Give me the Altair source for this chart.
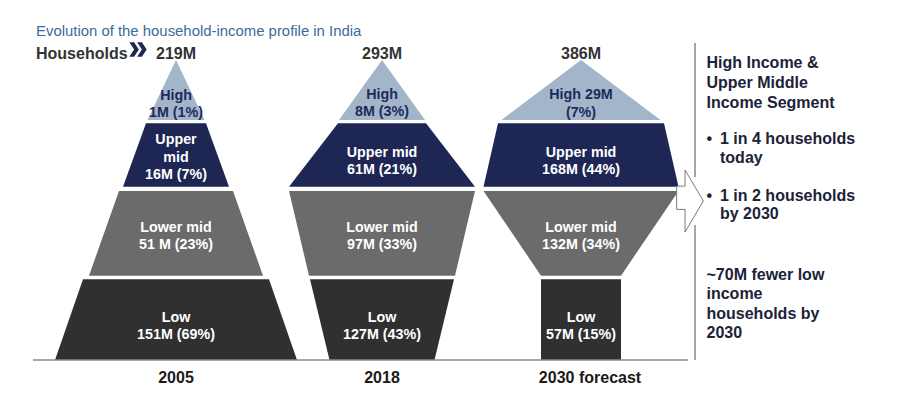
import altair as alt
import pandas as pd

# ---------------- data ----------------
years = ["2005", "2018", "2030 forecast"]
totals = ["219M", "293M", "386M"]
segments = ["High", "Upper mid", "Lower mid", "Low"]
seg_labels = [
    [["High", "1M (1%)"], ["Upper", "mid", "16M (7%)"], ["Lower mid", "51 M (23%)"], ["Low", "151M (69%)"]],
    [["High", "8M (3%)"], ["Upper mid", "61M (21%)"], ["Lower mid", "97M (33%)"], ["Low", "127M (43%)"]],
    [["High 29M", "(7%)"], ["Upper mid", "168M (44%)"], ["Lower mid", "132M (34%)"], ["Low", "57M (15%)"]],
]
# half-widths of each band at its top and bottom edge, per year
half_top = [[0, 30, 57, 93], [0, 44, 93, 72], [0, 83, 97.5, 40]]
half_bottom = [[28.5, 53, 87, 121], [43, 93, 73, 52.5], [79.5, 97.5, 40, 40]]

title_text = "Evolution of the household-income profile in India"
households_text = "Households"
side_title = ["High Income &", "Upper Middle", "Income Segment"]
side_bullets = [["1 in 4 households", "today"], ["1 in 2 households", "by 2030"]]
side_note = ["~70M fewer low", "income", "households by", "2030"]

# ---------------- layout / style ----------------
W, H = 892, 379
centers = [176, 382, 581]
year_label_x = [176, 382, 590]
band_top = [60, 123.3, 191, 279.3]
band_bottom = [120, 186.7, 275.7, 360]
label_first_y = [[99.5, 144, 231.7, 321.7], [98.5, 156.7, 231.7, 321.7], [99, 156.7, 231.7, 321.7]]
fills = ["#a3b5c8", "#1e2654", "#6b6b6b", "#303030"]
label_colors = ["#1f2a5c", "white", "white", "white"]
FONT = "Liberation Sans"

xs = alt.Scale(domain=[8, 8 + W], range=[0, W], nice=False, zero=False)
ys = alt.Scale(domain=[8, 8 + H], range=[0, H], nice=False, zero=False)


def X(f):
    return alt.X(f, type="quantitative", scale=xs, axis=None)


def Y(f):
    return alt.Y(f, type="quantitative", scale=ys, axis=None)


# bands (trapezoids)
rows = []
for i in range(len(years)):
    for j, s in enumerate(segments):
        c = centers[i]
        rows.append(dict(id=f"{i}-{j}", seg=s, y=band_top[j], xl=c - half_top[i][j], xr=c + half_top[i][j]))
        rows.append(dict(id=f"{i}-{j}", seg=s, y=band_bottom[j], xl=c - half_bottom[i][j], xr=c + half_bottom[i][j]))
bands = alt.Chart(pd.DataFrame(rows)).mark_area(orient="horizontal", opacity=1).encode(
    y=Y("y"), x=X("xl"), x2="xr",
    color=alt.Color("seg:N", scale=alt.Scale(domain=segments, range=fills), legend=None),
    detail="id:N",
)

# band labels
lrows = []
for i in range(len(years)):
    for j, s in enumerate(segments):
        for k, line in enumerate(seg_labels[i][j]):
            lrows.append(dict(x=centers[i], y=label_first_y[i][j] + 17.7 * k, t=line, c=label_colors[j]))
band_labels = alt.Chart(pd.DataFrame(lrows)).mark_text(
    font=FONT, fontSize=14.3, fontWeight="bold", align="center", baseline="alphabetic"
).encode(x=X("x"), y=Y("y"), text="t:N", color=alt.Color("c:N", scale=None))

# totals and years
tot = alt.Chart(pd.DataFrame(dict(x=centers, y=[54] * 3, t=totals))).mark_text(
    font=FONT, fontSize=16, fontWeight="bold", align="center", color="#333333"
).encode(x=X("x"), y=Y("y"), text="t:N")
yrs = alt.Chart(pd.DataFrame(dict(x=year_label_x, y=[378] * 3, t=years))).mark_text(
    font=FONT, fontSize=16, fontWeight="bold", align="center", color="#1a1a1a"
).encode(x=X("x"), y=Y("y"), text="t:N")

# title + households
title = alt.Chart(pd.DataFrame(dict(x=[36], y=[31.5], t=[title_text]))).mark_text(
    font=FONT, fontSize=14.9, align="left", color="#3d6b9a"
).encode(x=X("x"), y=Y("y"), text="t:N")
hh = alt.Chart(pd.DataFrame(dict(x=[36], y=[54], t=[households_text]))).mark_text(
    font=FONT, fontSize=16, fontWeight="bold", align="left", color="#333333"
).encode(x=X("x"), y=Y("y"), text="t:N")
chev_path = ("M-1,-0.85L-0.45,-0.85L0.1,0L-0.45,0.85L-1,0.85L-0.45,0Z"
             "M-0.1,-0.85L0.45,-0.85L1,0L0.45,0.85L-0.1,0.85L0.45,0Z")
chev = alt.Chart(pd.DataFrame(dict(x=[138], y=[49.5]))).mark_point(
    shape=chev_path, size=300, filled=True, color="#1e2654", opacity=1, strokeWidth=0
).encode(x=X("x"), y=Y("y"))

# rules
rrows = [dict(x=33, x2=688, y=360, y2=360), dict(x=695, x2=695, y=43, y2=177), dict(x=695, x2=695, y=225, y2=360)]
rules = alt.Chart(pd.DataFrame(rrows)).mark_rule(color="#8a8a8a", strokeWidth=1.5).encode(
    x=X("x"), x2="x2", y=Y("y"), y2="y2"
)

# arrow
arrow_path = "M-0.43,-0.48L-0.16,-0.48L-0.16,-1L0.43,0L-0.16,1L-0.16,0.27L-0.43,0.27Z"
arrow = alt.Chart(pd.DataFrame(dict(x=[690], y=[201]))).mark_point(
    shape=arrow_path, size=3844, filled=True, fill="white", stroke="#7a7a7a", strokeWidth=1, opacity=1
).encode(x=X("x"), y=Y("y"))

# side text
srows = []
for k, line in enumerate(side_title):
    srows.append(dict(x=706.5, y=63.3 + 19.7 * k, t=line))
for b, start in zip(side_bullets, [139.3, 196]):
    srows.append(dict(x=706.5, y=start, t="•"))
    for k, line in enumerate(b):
        srows.append(dict(x=720, y=start + 18.2 * k, t=line))
for k, line in enumerate(side_note):
    srows.append(dict(x=706.5, y=275 + 19.3 * k, t=line))
side = alt.Chart(pd.DataFrame(srows)).mark_text(
    font=FONT, fontSize=16, fontWeight="bold", align="left", color="#1c2238"
).encode(x=X("x"), y=Y("y"), text="t:N")

chart = alt.layer(bands, band_labels, tot, yrs, title, hh, chev, rules, arrow, side).properties(
    width=W, height=H, padding=0, autosize=alt.AutoSizeParams(type="none"), background="white"
).configure_view(stroke=None)

chart.save("out.html", embed_options={"renderer": "svg", "actions": False})
